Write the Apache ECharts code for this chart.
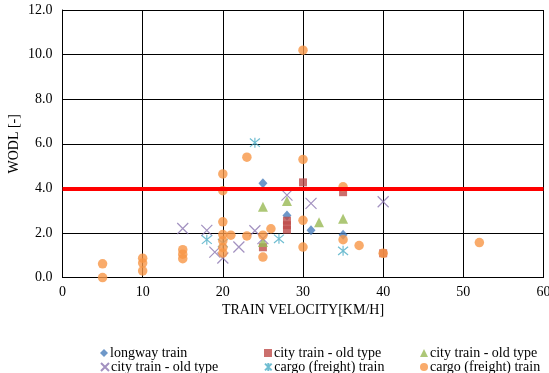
<!DOCTYPE html>
<html>
<head>
<meta charset="utf-8">
<script src="https://cdn.jsdelivr.net/npm/echarts@6/dist/echarts.min.js"></script>
<style>html,body{margin:0;padding:0;background:#fff}#c{width:549px;height:373px}</style>
</head>
<body>
<div id="c"></div>
<script>
// ---- data ----
var xTicks = [0, 10, 20, 30, 40, 50, 60];
var yTicks = [0, 2, 4, 6, 8, 10, 12];
var limitValue = 4.0;

var longwayTrain = [[25,4.23],[28,2.78],[31,2.12],[35,1.92]];
var cityOldA = [[30,4.27],[35,3.83],[28,2.55],[28,2.35],[28,2.15],[25,1.36],[40,1.09]];
var cityOldB = [[25,3.18],[28,3.43],[32,2.48],[35,2.64],[25,1.6]];
var cityOldC = [[15,2.2],[18,2.12],[19,1.14],[20,0.88],[22,1.37],[24,2.1],[25,1.75],[28,3.7],[31,3.33],[40,3.4]];
var cargoA = [[24,6.05],[18,1.7],[20,1.55],[27,1.74],[35,1.2]];
var cargoB = [[5,0.62],[5,0.0],[10,0.87],[10,0.65],[10,0.3],[15,1.25],[15,1.05],[15,0.85],
  [20,4.65],[20,3.9],[20,2.5],[20,1.93],[20,1.65],[20,1.35],[20,1.1],[21,1.9],[23,5.4],[23,1.87],
  [25,1.9],[25,0.92],[26,2.19],[30,10.2],[30,5.3],[30,2.57],[30,1.37],[35,4.07],[35,1.7],[37,1.44],
  [40,1.09],[52,1.57]];

var seriesNames = ['longway train','city train - old type#1','city train - old type#2','city train - old type#3','cargo (freight) train#1','cargo (freight) train#2'];
var xTitle = 'TRAIN VELOCITY[KM/H]';
var yTitle = 'WODL [-]';

var FONT = 'Liberation Serif';
var X_PATH = 'path://M0,0L10,10M10,0L0,10';
var AST_PATH = 'path://M0,0L10,10M10,0L0,10M5,-1L5,11';

var chart = echarts.init(document.getElementById('c'), null, {renderer:'canvas'});

function sc(name, data, symbol, size, color, stroke) {
  return {
    type:'scatter', name:name, data:data, symbol:symbol, symbolSize:size,
    itemStyle: stroke ? {color:'rgba(0,0,0,0)', borderColor:color, borderWidth:1.2} : {color:color},
    emphasis:{disabled:true}, animation:false
  };
}

var series = [
  sc(seriesNames[0], longwayTrain, 'diamond', [9,10], '#4A7EBB'),
  sc(seriesNames[1], cityOldA, 'rect', 8, '#BE4B48'),
  sc(seriesNames[2], cityOldB, 'triangle', 10, '#98B954'),
  sc(seriesNames[3], cityOldC, X_PATH, 11, '#8B75B0', true),
  sc(seriesNames[4], cargoA, AST_PATH, 10, '#4BACC6', true),
  sc(seriesNames[5], cargoB, 'circle', 9.5, '#F79646')
];
series[0].markLine = {
  silent:true, symbol:'none', label:{show:false}, animation:false,
  lineStyle:{color:'#FF0000', width:4, type:'solid'},
  data:[{yAxis:limitValue}]
};

var legendPos = [[100,346],[264,346],[420,346],[100,360],[264,360],[420,360]];
var legends = seriesNames.map(function(n,i){
  return {
    data:[n], left:legendPos[i][0], top:legendPos[i][1], orient:'horizontal',
    itemWidth:8, itemHeight:8, itemGap:0, padding:0, selectedMode:false,
    textStyle:{fontFamily:FONT, fontSize:14, color:'#000', padding:[0,0,0,-3]},
    formatter:function(name){ return name.replace(/#\d+$/,''); }
  };
});

chart.setOption({
  animation:false,
  backgroundColor:'#fff',
  grid:{left:62.5, right:5.5, top:10, bottom:95.4, containLabel:false, outerBoundsMode:'none'},
  legend: legends,
  xAxis:{
    type:'value', min:xTicks[0], max:xTicks[xTicks.length-1], interval:10,
    name:xTitle, nameLocation:'middle', nameGap:26, nameMoveOverlap:false,
    nameTextStyle:{fontFamily:FONT, fontSize:14, color:'#000'},
    axisLine:{show:true, lineStyle:{color:'#000', width:1}},
    axisTick:{show:false},
    axisLabel:{fontFamily:FONT, fontSize:14, color:'#000', margin:8},
    splitLine:{show:true, lineStyle:{color:'#000', width:1}}
  },
  yAxis:{
    type:'value', min:yTicks[0], max:yTicks[yTicks.length-1], interval:2,
    name:yTitle, nameLocation:'middle', nameGap:41, nameRotate:90, nameMoveOverlap:false,
    nameTextStyle:{fontFamily:FONT, fontSize:14, color:'#000'},
    axisLine:{show:true, lineStyle:{color:'#000', width:1}},
    axisTick:{show:false},
    axisLabel:{fontFamily:FONT, fontSize:14, color:'#000', margin:10, formatter:function(v){return v.toFixed(1);}},
    splitLine:{show:true, lineStyle:{color:'#000', width:1}}
  },
  series: series
});
</script>
</body>
</html>
